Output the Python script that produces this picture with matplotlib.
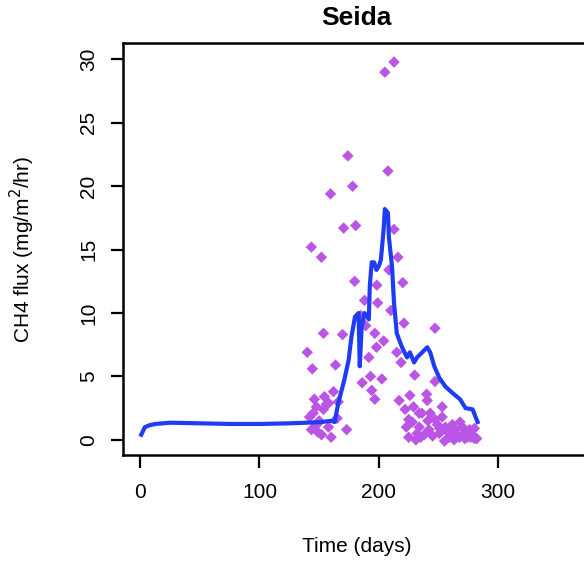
import matplotlib.pyplot as plt

plt.rcParams['font.family'] = ['Liberation Sans', 'DejaVu Sans']

# observed chamber fluxes (day, mg/m2/hr)
obs_day = [205, 212.7, 174, 207.6, 178, 159.5, 170.5, 180.6, 143.5, 151.9,
           212.7, 216, 179.7, 198.3, 208.4, 220, 199, 221, 247, 153.6,
           169.6, 196.6, 204, 140, 163.7, 144.3, 191.6, 198, 215, 218.6,
           230, 202.5, 247, 194, 196.6, 217, 226, 240, 253, 240.5,
           233.8, 146, 154.4, 162, 147.7, 145, 153.6, 143.5, 152, 160,
           173, 157.8, 223, 225, 232, 233.8, 242, 247, 250.6, 255.7,
           259, 264, 267.5, 271.7, 276, 280, 276.8, 263, 255, 225,
           236, 243, 253, 261.6, 270, 274, 185, 188, 150, 156,
           148, 166, 186, 210, 228, 238, 245, 258, 268, 278,
           282, 231, 249, 262, 272, 229, 241, 257, 266, 280,
           142, 149, 158, 165, 189, 193, 222, 235, 251, 270]
obs_flux = [29.0, 29.8, 22.4, 21.2, 20.0, 19.4, 16.7, 16.9, 15.2, 14.4,
            16.6, 14.4, 12.5, 12.2, 13.4, 12.4, 10.8, 9.2, 8.8, 8.4,
            8.3, 8.4, 7.8, 6.9, 5.9, 5.6, 6.5, 7.3, 6.9, 6.1,
            5.1, 4.8, 4.6, 3.9, 3.2, 3.1, 3.5, 3.6, 2.6, 3.1,
            2.1, 3.2, 3.4, 3.8, 2.6, 2.1, 2.4, 0.8, 0.4, 0.2,
            0.8, 1.0, 1.0, 0.2, 0.5, 1.0, 0.8, 1.6, 0.5, 1.0,
            0.2, 0.8, 0.2, 0.5, 0.8, 0.9, 0.2, 0.0, -0.1, 1.6,
            2.1, 2.1, 1.8, 1.2, 1.0, 0.2, 9.8, 11.0, 1.5, 2.8,
            1.2, 3.0, 4.5, 10.2, 1.4, 0.4, 0.3, 0.6, 1.4, 0.4,
            0.1, 0.0, 1.2, 0.4, 0.1, 2.6, 1.5, 0.7, 0.3, 0.1,
            1.8, 0.6, 2.9, 1.7, 9.0, 5.0, 2.4, 0.2, 0.9, 0.4]

# modelled flux
mod_day = [1, 4, 8, 13, 25, 50, 75, 100, 125, 140, 152, 160, 163, 166,
           171, 174.7, 177, 180, 183, 184, 185.6, 188, 191.6, 192.4, 194,
           196, 198, 200, 201.7, 204, 205, 207.6, 208.4, 211, 212.7, 215,
           219.4, 223.6, 226, 229.5, 232, 236.3, 240.5, 243, 246.4, 250.6,
           255.7, 261.6, 268, 272.6, 278.5, 282.7]
mod_flux = [0.4, 1.0, 1.15, 1.25, 1.35, 1.3, 1.25, 1.25, 1.3, 1.35, 1.4, 1.5,
            1.4, 2.9, 4.7, 6.3, 8.1, 9.7, 10.0, 5.8, 8.9, 10.0, 9.5, 12.1,
            14.0, 14.0, 13.4, 13.7, 14.2, 16.6, 18.2, 17.9, 16.0, 13.7, 10.8,
            8.4, 7.3, 6.5, 6.9, 6.1, 6.5, 6.9, 7.3, 6.9, 5.8, 4.9, 4.2, 3.7,
            3.2, 2.5, 2.4, 1.4]

fig = plt.figure(figsize=(5.84, 5.63), dpi=100)
ax = fig.add_axes([0.2106, 0.1918, 0.80, 0.7318])

ax.scatter(obs_day, obs_flux, marker='D', s=34, color='#bb55e6',
           edgecolors='none', zorder=2)
ax.plot(mod_day, mod_flux, color='#1e3cf5', lw=3, zorder=3)

ax.set_xlim(-14.3, 377)
ax.set_ylim(-1.2, 31.3)
ax.set_xticks([0, 100, 200, 300])
ax.set_yticks([0, 5, 10, 15, 20, 25, 30])
ax.tick_params(direction='out', length=9, width=1.6, labelsize=15, pad=11,
               colors='black')
ax.tick_params(axis='y', pad=9)
for lab in ax.get_yticklabels():
    lab.set_rotation(90)
    lab.set_va('center')
for sp in ax.spines.values():
    sp.set_linewidth(1.8)

ax.set_title('Seida', fontsize=19, fontweight='bold', pad=13)
ax.set_xlabel('Time (days)', fontsize=15, labelpad=25)
ax.set_ylabel('CH4 flux (mg/m$^2$/hr)', fontsize=15, labelpad=30)

fig.savefig('out.png', dpi=100)
